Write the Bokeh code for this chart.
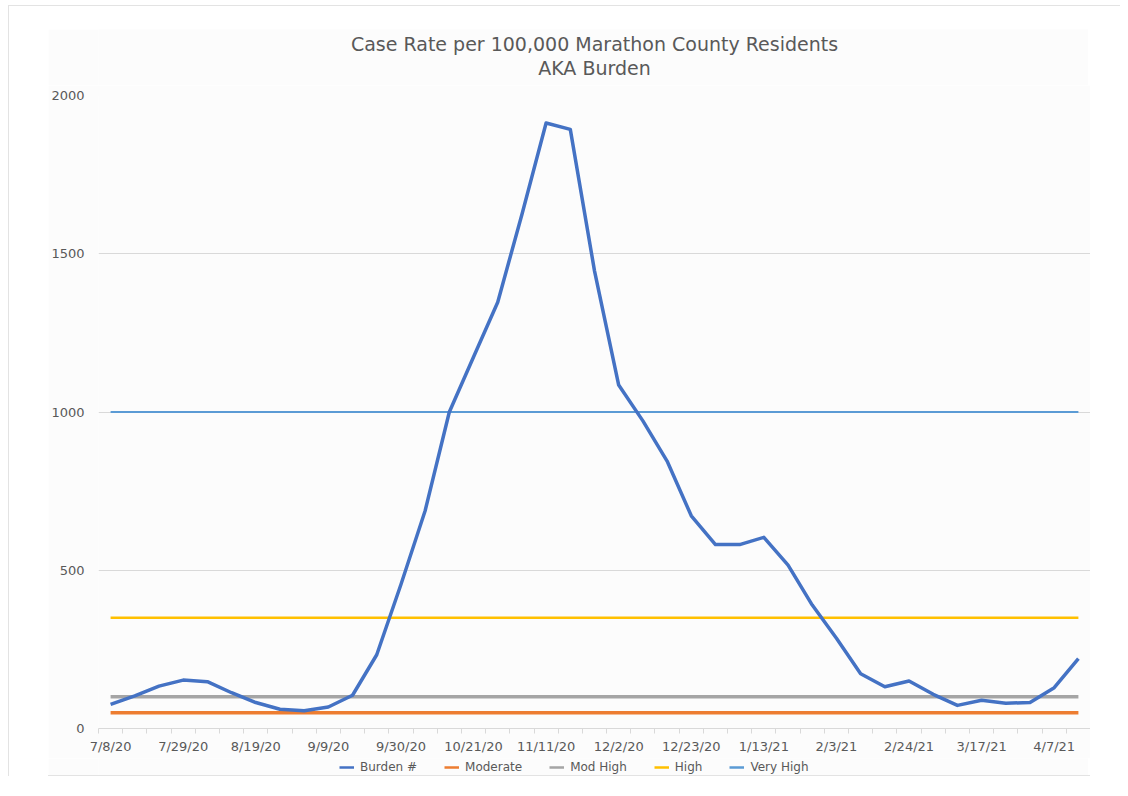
from bokeh.plotting import figure
from bokeh.models import (FixedTicker, Legend, LegendItem, Label, Range1d, Spacer)
from bokeh.layouts import column, row
from bokeh.embed import file_html
from bokeh.resources import INLINE

dates = ["7/8/20", "7/15/20", "7/22/20", "7/29/20", "8/5/20", "8/12/20", "8/19/20",
         "8/26/20", "9/2/20", "9/9/20", "9/16/20", "9/23/20", "9/30/20", "10/7/20",
         "10/14/20", "10/21/20", "10/28/20", "11/4/20", "11/11/20", "11/18/20",
         "11/25/20", "12/2/20", "12/9/20", "12/16/20", "12/23/20", "12/30/20",
         "1/6/21", "1/13/21", "1/20/21", "1/27/21", "2/3/21", "2/10/21", "2/17/21",
         "2/24/21", "3/3/21", "3/10/21", "3/17/21", "3/24/21", "3/31/21", "4/7/21",
         "4/14/21"]

burden = [76, 103, 134, 153, 148, 113, 82, 61, 56, 68, 105, 233, 455, 688, 1000,
          1174, 1347, 1624, 1913, 1893, 1446, 1085, 972, 845, 672, 581, 581, 604,
          516, 390, 285, 173, 132, 150, 108, 73, 89, 80, 82, 129, 221]

moderate_level = 50
mod_high_level = 100
high_level = 350
very_high_level = 1000

y_ticks = [0, 500, 1000, 1500, 2000]
label_every = 3

title_line1 = "Case Rate per 100,000 Marathon County Residents"
title_line2 = "AKA Burden"

n = len(dates)
xs = list(range(n))
moderate = [moderate_level] * n
mod_high = [mod_high_level] * n
high = [high_level] * n
very_high = [very_high_level] * n

TEXT = "#595959"
GRID = "#d9d9d9"
FONT = "DejaVu Sans"
BG = "#fcfcfc"
LEFT = 48

series = [("Burden #", burden, "#4472C4", 3.5),
          ("Moderate", moderate, "#ED7D31", 3.5),
          ("Mod High", mod_high, "#A5A5A5", 3.5),
          ("High", high, "#FFC000", 2.5),
          ("Very High", very_high, "#5B9BD5", 2)]

common = dict(output_backend="svg", toolbar_location=None,
              background_fill_color=BG, border_fill_color=BG,
              outline_line_color=None)

# ---- title strip ----
t = figure(frame_width=992, frame_height=56, min_border_left=LEFT, min_border_right=0,
           min_border_top=0, min_border_bottom=0,
           x_range=Range1d(-0.5, n - 0.5), y_range=Range1d(0, 56), **common)
t.axis.visible = False
t.grid.visible = False
t.add_layout(Label(x=(n - 1) / 2, y=42, text=title_line1, text_align="center",
                   text_baseline="middle", text_font=FONT, text_font_size="19px",
                   text_color=TEXT))
t.add_layout(Label(x=(n - 1) / 2, y=18, text=title_line2, text_align="center",
                   text_baseline="middle", text_font=FONT, text_font_size="19px",
                   text_color=TEXT))

# ---- main chart ----
p = figure(frame_width=992, frame_height=633,
           x_range=Range1d(-0.5, n - 0.5), y_range=Range1d(0, 2000),
           min_border_left=LEFT, min_border_right=0, min_border_top=10,
           min_border_bottom=30, **common)

p.xaxis.ticker = FixedTicker(ticks=xs[::label_every],
                             minor_ticks=[i - 0.5 for i in range(n + 1)])
p.xaxis.major_label_overrides = {i: dates[i] for i in xs[::label_every]}
p.xaxis.major_tick_out = 0
p.xaxis.major_tick_in = 0
p.xaxis.minor_tick_out = 5
p.xaxis.minor_tick_in = 0
p.xaxis.minor_tick_line_color = GRID
p.xaxis.axis_line_color = GRID
p.xaxis.major_label_text_color = TEXT
p.xaxis.major_label_text_font = FONT
p.xaxis.major_label_text_font_size = "13px"
p.xaxis.major_label_standoff = 5

p.yaxis.ticker = FixedTicker(ticks=y_ticks)
p.yaxis.axis_line_color = None
p.yaxis.major_tick_out = 0
p.yaxis.major_tick_in = 0
p.yaxis.major_tick_line_color = None
p.yaxis.minor_tick_line_color = None
p.yaxis.major_label_text_color = TEXT
p.yaxis.major_label_text_font = FONT
p.yaxis.major_label_text_font_size = "13px"
p.yaxis.major_label_standoff = 14

p.xgrid.grid_line_color = None
p.ygrid.grid_line_color = GRID
p.ygrid.ticker = FixedTicker(ticks=y_ticks)

# thresholds first, burden on top
for name, vals, color, width in series[1:] + series[:1]:
    p.line(xs, vals, line_color=color, line_width=width, line_join="round")

# ---- legend strip ----
lg = figure(frame_width=992 + LEFT, frame_height=17, min_border=0,
            x_range=Range1d(-0.5, n - 0.5), y_range=Range1d(-2, -1), **common)
lg.axis.visible = False
lg.grid.visible = False
items = []
for name, vals, color, width in series:
    r = lg.line(xs, vals, line_color=color, line_width=2.5)
    items.append(LegendItem(label=name, renderers=[r]))
legend = Legend(items=items, orientation="horizontal", location=(291, 1),
                label_text_font=FONT, label_text_font_size="12px",
                label_text_color=TEXT, glyph_width=15, glyph_height=14,
                label_standoff=6, spacing=27, padding=0, margin=0,
                border_line_color=None, background_fill_alpha=0,
                label_height=14)
lg.add_layout(legend, "center")

charts = column(t, p, lg, styles={"border-bottom": "1px solid #e3e3e3"})
inner = column(Spacer(height=23),
               row(Spacer(width=39), charts, Spacer(width=30)),
               styles={"border-top": "1px solid #e3e3e3",
                       "border-left": "1px solid #e3e3e3"})
layout = column(Spacer(height=5), row(Spacer(width=8), inner))

open("out.html", "w").write(file_html(layout, INLINE))
